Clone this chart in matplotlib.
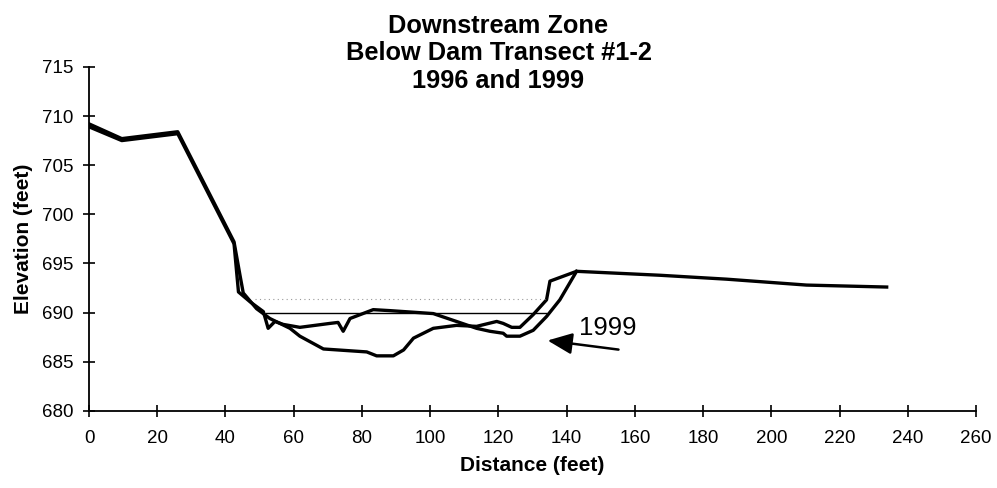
import matplotlib
matplotlib.use("Agg")
import matplotlib.pyplot as plt

plt.rcParams['font.family'] = ['Liberation Sans', 'DejaVu Sans']

# transect 1996 (deeper channel)
dist_1996 = [0, 9.6, 26, 42.5, 44.3, 45.2, 49.1, 53.0, 58.9, 61.8, 68.7, 81.4,
             84.3, 89.2, 92.2, 95.1, 100.9, 107.7, 113.6, 119.5, 121.4, 123.9,
             126.3, 130.2, 134.1, 135.1, 142.9, 167.3, 186.9, 210.3, 233.8]
elev_1996 = [709.2, 707.7, 708.4, 697.2, 693.7, 692.0, 690.4, 689.4, 688.4, 687.6,
             686.3, 686.0, 685.6, 685.6, 686.2, 687.4, 688.4, 688.7, 688.6, 689.1,
             688.9, 688.5, 688.5, 689.8, 691.3, 693.2, 694.2, 693.8, 693.4, 692.8,
             692.6]

# transect 1999
dist_1999 = [0, 9.6, 26, 42.5, 43.8, 47.2, 51.1, 52.5, 54.5, 56.9, 61.8, 70.6,
             73, 74.5, 76.5, 83.3, 88.2, 100.9, 107.7, 113.6, 117.5, 121.4,
             122.4, 126.3, 130.2, 134.1, 138.0, 142.9]
elev_1999 = [708.9, 707.5, 708.2, 697.0, 692.1, 691.1, 690.1, 688.4, 689.1, 688.8,
             688.5, 688.9, 689.0, 688.1, 689.4, 690.3, 690.2, 689.9, 689.1, 688.4,
             688.1, 687.9, 687.6, 687.6, 688.2, 689.6, 691.3, 694.2]

# water surface lines
water_x = [52, 134]
water_y = [690, 690]
dotted_x = [48.7, 133.6]
dotted_y = [691.4, 691.4]

xticks = list(range(0, 261, 20))
yticks = list(range(680, 716, 5))

fig = plt.figure(figsize=(9.97, 4.88), dpi=100)
ax = fig.add_axes([0.0893, 0.158, 0.8897, 0.705])

ax.plot(dist_1996, elev_1996, color='black', lw=2.4, solid_joinstyle='round')
ax.plot(dist_1999, elev_1999, color='black', lw=2.4, solid_joinstyle='round')
ax.plot(water_x, water_y, color='black', lw=1.0)
ax.plot(dotted_x, dotted_y, color='#999999', lw=0.8, ls=(0, (1, 3)))

ax.annotate('', xy=(133.6, 687.2), xytext=(156, 686.2),
            arrowprops=dict(arrowstyle='-|>,head_length=1.5,head_width=0.65',
                            color='black', lw=1.8))
ax.text(152, 688.4, '1999', fontsize=18.5, ha='center', va='center')

ax.set_xlim(0, 260)
ax.set_ylim(680, 715)
ax.set_xticks(xticks)
ax.set_yticks(yticks)
ax.tick_params(direction='inout', length=9, width=1.2, labelsize=13.5)
ax.tick_params(axis='x', pad=9)
ax.tick_params(axis='y', pad=7)
for side in ['top', 'right']:
    ax.spines[side].set_visible(False)
for side in ['left', 'bottom']:
    ax.spines[side].set_linewidth(1.3)

ax.set_xlabel('Distance (feet)', fontsize=15, fontweight='bold', labelpad=7)
ax.set_ylabel('Elevation (feet)', fontsize=15, fontweight='bold', labelpad=6)

fig.text(0.5, 0.972, 'Downstream Zone\nBelow Dam Transect #1-2\n1996 and 1999',
         ha='center', va='top', fontsize=18.3, fontweight='bold', linespacing=1.2)

fig.savefig('out.png', dpi=100)
